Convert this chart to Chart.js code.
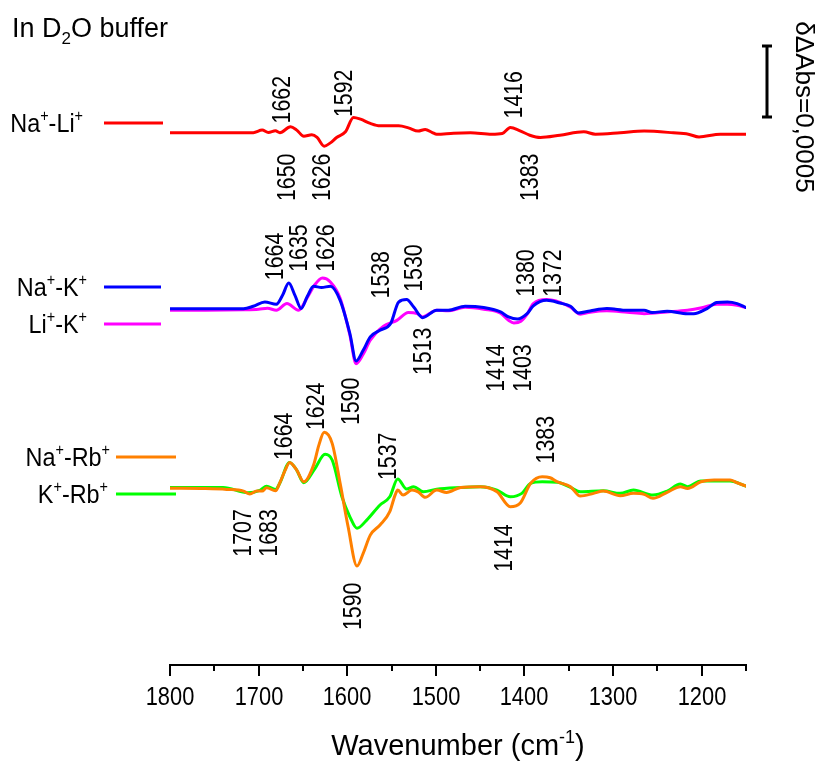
<!DOCTYPE html>
<html>
<head>
<meta charset="utf-8">
<script src="https://cdn.jsdelivr.net/npm/chart.js@4.4.0/dist/chart.umd.min.js"></script>
<style>
  body { margin: 0; background: #fff; }
  #wrap { width: 819px; height: 762px; }
</style>
</head>
<body>
<div id="wrap"><canvas id="spectra" width="819" height="762"></canvas></div>
<script>
// double difference spectra, values in units of 1e-4 absorbance
const naLiWn = [1800,1760,1720,1706,1696,1689,1681,1676,1664,1657,1649,1640,1634,1626,1619,1612,1602,1593,1585,1574,1563,1542,1531,1520,1512,1504,1499,1480,1461,1437,1425,1416,1405,1394,1382,1360,1333,1320,1292,1265,1232,1215,1203,1179,1150];
const naLiDiff = [0,0,0,0,0.18,0.01,0.13,0,0.41,0.18,-0.25,-0.15,-0.34,-0.95,-0.72,-0.34,0.06,1.07,0.95,0.65,0.48,0.48,0.34,0.11,0.23,0.01,-0.11,-0.04,-0.01,-0.11,-0.06,0.37,0.13,-0.18,-0.34,-0.18,0.06,-0.11,-0.01,0.11,-0.01,-0.11,-0.30,-0.11,-0.11];

const naKWn = [1800,1760,1717,1706,1693,1680,1673,1666,1659,1652,1645,1638,1629,1619,1608,1597,1590,1582,1574,1563,1551,1542,1533,1525,1515,1499,1486,1467,1446,1427,1418,1408,1397,1390,1375,1360,1348,1339,1326,1307,1284,1265,1256,1239,1216,1209,1194,1183,1171,1160,1150];
const naKDiff = [0,0,0,0.17,0.47,0.31,0.94,1.81,0.94,0.01,0.87,1.58,1.49,1.58,0.59,-1.75,-3.68,-2.93,-1.99,-1.52,-1.05,0.47,0.64,0.12,-0.63,-0.11,-0.11,0.17,0.08,-0.23,-0.58,-0.73,-0.35,0.20,0.59,0.40,0.17,-0.30,-0.16,0.01,-0.11,-0.11,-0.27,-0.18,-0.35,-0.35,0.01,0.43,0.47,0.36,0.08];

const liKWn = [1800,1760,1717,1700,1690,1680,1668,1655,1645,1637,1628,1619,1608,1597,1590,1582,1574,1559,1544,1531,1521,1515,1499,1486,1467,1446,1427,1418,1412,1404,1397,1390,1375,1360,1348,1337,1326,1307,1284,1265,1239,1216,1200,1183,1171,1160,1150];
const liKDiff = [-0.11,-0.11,-0.08,-0.04,0.03,-0.11,0.36,-0.11,0.80,1.65,2.16,1.88,0.73,-1.87,-3.87,-3.21,-2.22,-1.24,-0.82,-0.27,-0.35,-0.58,-0.11,-0.15,0.10,-0.04,-0.32,-0.82,-1.01,-0.89,-0.39,0.36,0.64,0.45,0.10,-0.39,-0.25,-0.15,-0.25,-0.35,-0.23,-0.11,0.06,0.31,0.31,0.24,0.08];

const naRbWn = [1800,1760,1736,1717,1710,1702,1696,1691,1681,1676,1670,1665,1657,1649,1638,1632,1626,1617,1608,1599,1589,1582,1574,1563,1552,1546,1543,1537,1527,1520,1512,1499,1488,1472,1450,1431,1416,1405,1393,1380,1371,1363,1348,1337,1322,1311,1292,1277,1265,1255,1239,1224,1216,1201,1186,1168,1160,1150];
const naRbDiff = [0,-0.02,-0.08,-0.20,-0.41,-0.20,-0.20,0.04,-0.18,0.39,1.28,1.82,1.28,0.46,1.63,3.04,3.94,3.16,0.35,-2.71,-5.48,-4.58,-3.30,-2.59,-1.65,-0.48,-0.13,-0.48,-0.13,-0.25,-0.64,-0.13,-0.29,0.06,0.11,-0.25,-1.30,-1.06,0.35,0.81,0.74,0.46,0.11,-0.55,-0.36,-0.20,-0.53,-0.36,-0.43,-0.71,-0.29,0.11,-0.01,0.46,0.58,0.58,0.39,0.15];

const kRbWn = [1800,1740,1712,1698,1691,1681,1676,1665,1657,1649,1637,1625,1617,1606,1597,1589,1578,1563,1552,1543,1533,1525,1514,1499,1472,1450,1431,1416,1403,1393,1380,1363,1348,1337,1311,1292,1277,1255,1239,1224,1216,1201,1168,1150];
const kRbDiff = [0.06,0.06,-0.32,-0.13,0.15,-0.08,0.37,1.82,1.28,0.39,1.33,2.39,1.99,-0.60,-2.01,-2.82,-2.24,-1.18,-0.60,0.65,-0.06,0.11,-0.25,-0.06,0.06,0.11,-0.13,-0.60,-0.36,0.35,0.46,0.42,0.06,-0.25,-0.18,-0.36,-0.13,-0.48,-0.20,0.30,0.11,0.51,0.51,0.15];

// vertical stacking of the three panels
const naLiOffset = 37.5;
const naKOffset = 25.1;
const rbOffset = 12.45;

const xTicksMajor = [1800, 1700, 1600, 1500, 1400, 1300, 1200];

// peak labels: text, anchor wavenumber, anchor height (start of rotated text)
const peakLabels = [
  ['1662', 1672.7, 38.15], ['1592', 1602.4, 38.6], ['1650', 1667.5, 32.68], ['1626', 1627.2, 32.68],
  ['1416', 1411.2, 38.5], ['1383', 1392.3, 32.68],
  ['1664', 1680.3, 27.11], ['1635', 1654, 27.7], ['1626', 1623, 27.7], ['1538', 1560.9, 25.82],
  ['1530', 1523.3, 26.29], ['1513', 1514, 20.42], ['1380', 1397.2, 25.94], ['1372', 1367.1, 25.94],
  ['1414', 1431.1, 19.25], ['1403', 1401, 19.25],
  ['1664', 1670.1, 14.44], ['1624', 1634.3, 16.55], ['1590', 1594.8, 16.9], ['1537', 1553.5, 13.03],
  ['1383', 1374.6, 14.2], ['1707', 1717.2, 7.63], ['1683', 1687.1, 7.63], ['1590', 1593, 2.46],
  ['1414', 1421.7, 6.57]
];

const FONT = "'Liberation Sans', Arial, sans-serif";

function toPoints(wn, vals, offset) {
  return wn.map((w, i) => ({ x: w, y: vals[i] + offset }));
}

function makeSet(label, wn, vals, offset, color, order) {
  return {
    label: label,
    data: toPoints(wn, vals, offset),
    borderColor: color,
    borderWidth: 3,
    pointRadius: 0,
    fill: false,
    cubicInterpolationMode: 'monotone',
    borderJoinStyle: 'round',
    borderCapStyle: 'round',
    order: order
  };
}

// "Na^{+}-Li^{+}" style strings -> pieces with super/subscripts
function parseRich(str) {
  const parts = [];
  const re = /([\^_])\{([^}]*)\}|([^\^_]+)/g;
  let m;
  while ((m = re.exec(str))) {
    if (m[3]) parts.push({ t: m[3], mode: 0 });
    else parts.push({ t: m[2], mode: m[1] === '^' ? 1 : -1 });
  }
  return parts;
}

// squeeze < 1 narrows the glyphs (the original uses a condensed face)
function drawRich(ctx, str, x, y, size, align, squeeze, angle) {
  const parts = parseRich(str);
  const small = Math.round(size * 0.62);
  let total = 0;
  parts.forEach(p => {
    ctx.font = (p.mode ? small : size) + 'px ' + FONT;
    p.w = ctx.measureText(p.t).width;
    total += p.w;
  });
  ctx.save();
  ctx.translate(x, y);
  if (angle) ctx.rotate(angle);
  ctx.scale(squeeze || 1, 1);
  let cx = align === 'right' ? -total : align === 'center' ? -total / 2 : 0;
  ctx.textAlign = 'left';
  parts.forEach(p => {
    ctx.font = (p.mode ? small : size) + 'px ' + FONT;
    const dy = p.mode === 1 ? -size * 0.42 : p.mode === -1 ? size * 0.25 : 0;
    ctx.fillText(p.t, cx, dy);
    cx += p.w;
  });
  ctx.restore();
}

const legendRows = [
  { text: 'Na^{+}-Li^{+}', color: '#ff0000', y: 123, textEnd: 83, x0: 104, x1: 163 },
  { text: 'Na^{+}-K^{+}', color: '#0000ff', y: 287, textEnd: 87, x0: 104, x1: 161 },
  { text: 'Li^{+}-K^{+}', color: '#ff00ff', y: 324, textEnd: 87, x0: 104, x1: 161 },
  { text: 'Na^{+}-Rb^{+}', color: '#ff8000', y: 457, textEnd: 110, x0: 116, x1: 176 },
  { text: 'K^{+}-Rb^{+}', color: '#00ff00', y: 494, textEnd: 108, x0: 116, x1: 176 }
];

const decorPlugin = {
  id: 'decor',
  afterDraw(chart) {
    const ctx = chart.ctx;
    const sx = chart.scales.x;
    const sy = chart.scales.y;
    const area = chart.chartArea;
    ctx.save();
    ctx.fillStyle = '#000';
    ctx.strokeStyle = '#000';

    // tick marks (long every 100) and their labels
    ctx.lineWidth = 2;
    ctx.textBaseline = 'alphabetic';
    sx.ticks.forEach(t => {
      const px = Math.round(sx.getPixelForValue(t.value));
      const major = xTicksMajor.includes(t.value);
      ctx.beginPath();
      ctx.moveTo(px, area.bottom);
      ctx.lineTo(px, area.bottom + (major ? 11 : 6));
      ctx.stroke();
      if (major) drawRich(ctx, String(t.value), px, area.bottom + 40, 26, 'center', 0.84);
    });

    drawRich(ctx, 'Wavenumber (cm^{-1})', (area.left + area.right) / 2, 755, 29, 'center');
    drawRich(ctx, 'In D_{2}O buffer', 12, 37, 27, 'left');

    // legend rows to the left of the traces
    legendRows.forEach(r => {
      ctx.textBaseline = 'alphabetic';
      drawRich(ctx, r.text, r.textEnd, r.y + 9, 26, 'right', 0.9);
      ctx.strokeStyle = r.color;
      ctx.lineWidth = 3;
      ctx.beginPath();
      ctx.moveTo(r.x0, r.y);
      ctx.lineTo(r.x1, r.y);
      ctx.stroke();
    });

    // rotated peak positions
    ctx.textBaseline = 'middle';
    peakLabels.forEach(p => {
      drawRich(ctx, p[0], sx.getPixelForValue(p[1]), sy.getPixelForValue(p[2]), 26, 'left', 0.82, -Math.PI / 2);
    });

    // scale bar = 5e-4 absorbance
    const barX = area.right + 21;
    const yTop = sy.getPixelForValue(43.6);
    const yBot = sy.getPixelForValue(43.6 - 5);
    ctx.strokeStyle = '#000';
    ctx.lineWidth = 3;
    ctx.beginPath();
    ctx.moveTo(barX, yTop); ctx.lineTo(barX, yBot);
    ctx.moveTo(barX - 5, yTop); ctx.lineTo(barX + 5, yTop);
    ctx.moveTo(barX - 5, yBot); ctx.lineTo(barX + 5, yBot);
    ctx.stroke();
    ctx.textBaseline = 'middle';
    drawRich(ctx, '\u03b4\u0394Abs=0,0005', 803, 107, 26, 'center', 1, Math.PI / 2);
    ctx.restore();
  }
};

function drawChart() {
  const ctx = document.getElementById('spectra').getContext('2d');
  new Chart(ctx, {
    type: 'line',
    data: {
      datasets: [
        makeSet('Na+-Li+', naLiWn, naLiDiff, naLiOffset, '#ff0000', 1),
        makeSet('Na+-K+', naKWn, naKDiff, naKOffset, '#0000ff', 2),
        makeSet('Li+-K+', liKWn, liKDiff, naKOffset, '#ff00ff', 3),
        makeSet('Na+-Rb+', naRbWn, naRbDiff, rbOffset, '#ff8000', 4),
        makeSet('K+-Rb+', kRbWn, kRbDiff, rbOffset, '#00ff00', 5)
      ]
    },
    options: {
      responsive: false,
      animation: false,
      layout: { padding: { left: 170, right: 73, top: 12, bottom: 86 } },
      plugins: {
        legend: { display: false },
        tooltip: { enabled: false }
      },
      scales: {
        x: {
          type: 'linear',
          reverse: true,
          min: 1150,
          max: 1800,
          grid: { display: false, drawTicks: true, tickLength: 11 },
          border: { display: true, color: '#000', width: 2 },
          ticks: { display: false, stepSize: 50, autoSkip: false }
        },
        y: { display: false, min: 0, max: 46 }
      }
    },
    plugins: [decorPlugin]
  });
}

document.addEventListener('DOMContentLoaded', drawChart);
</script>
</body>
</html>
